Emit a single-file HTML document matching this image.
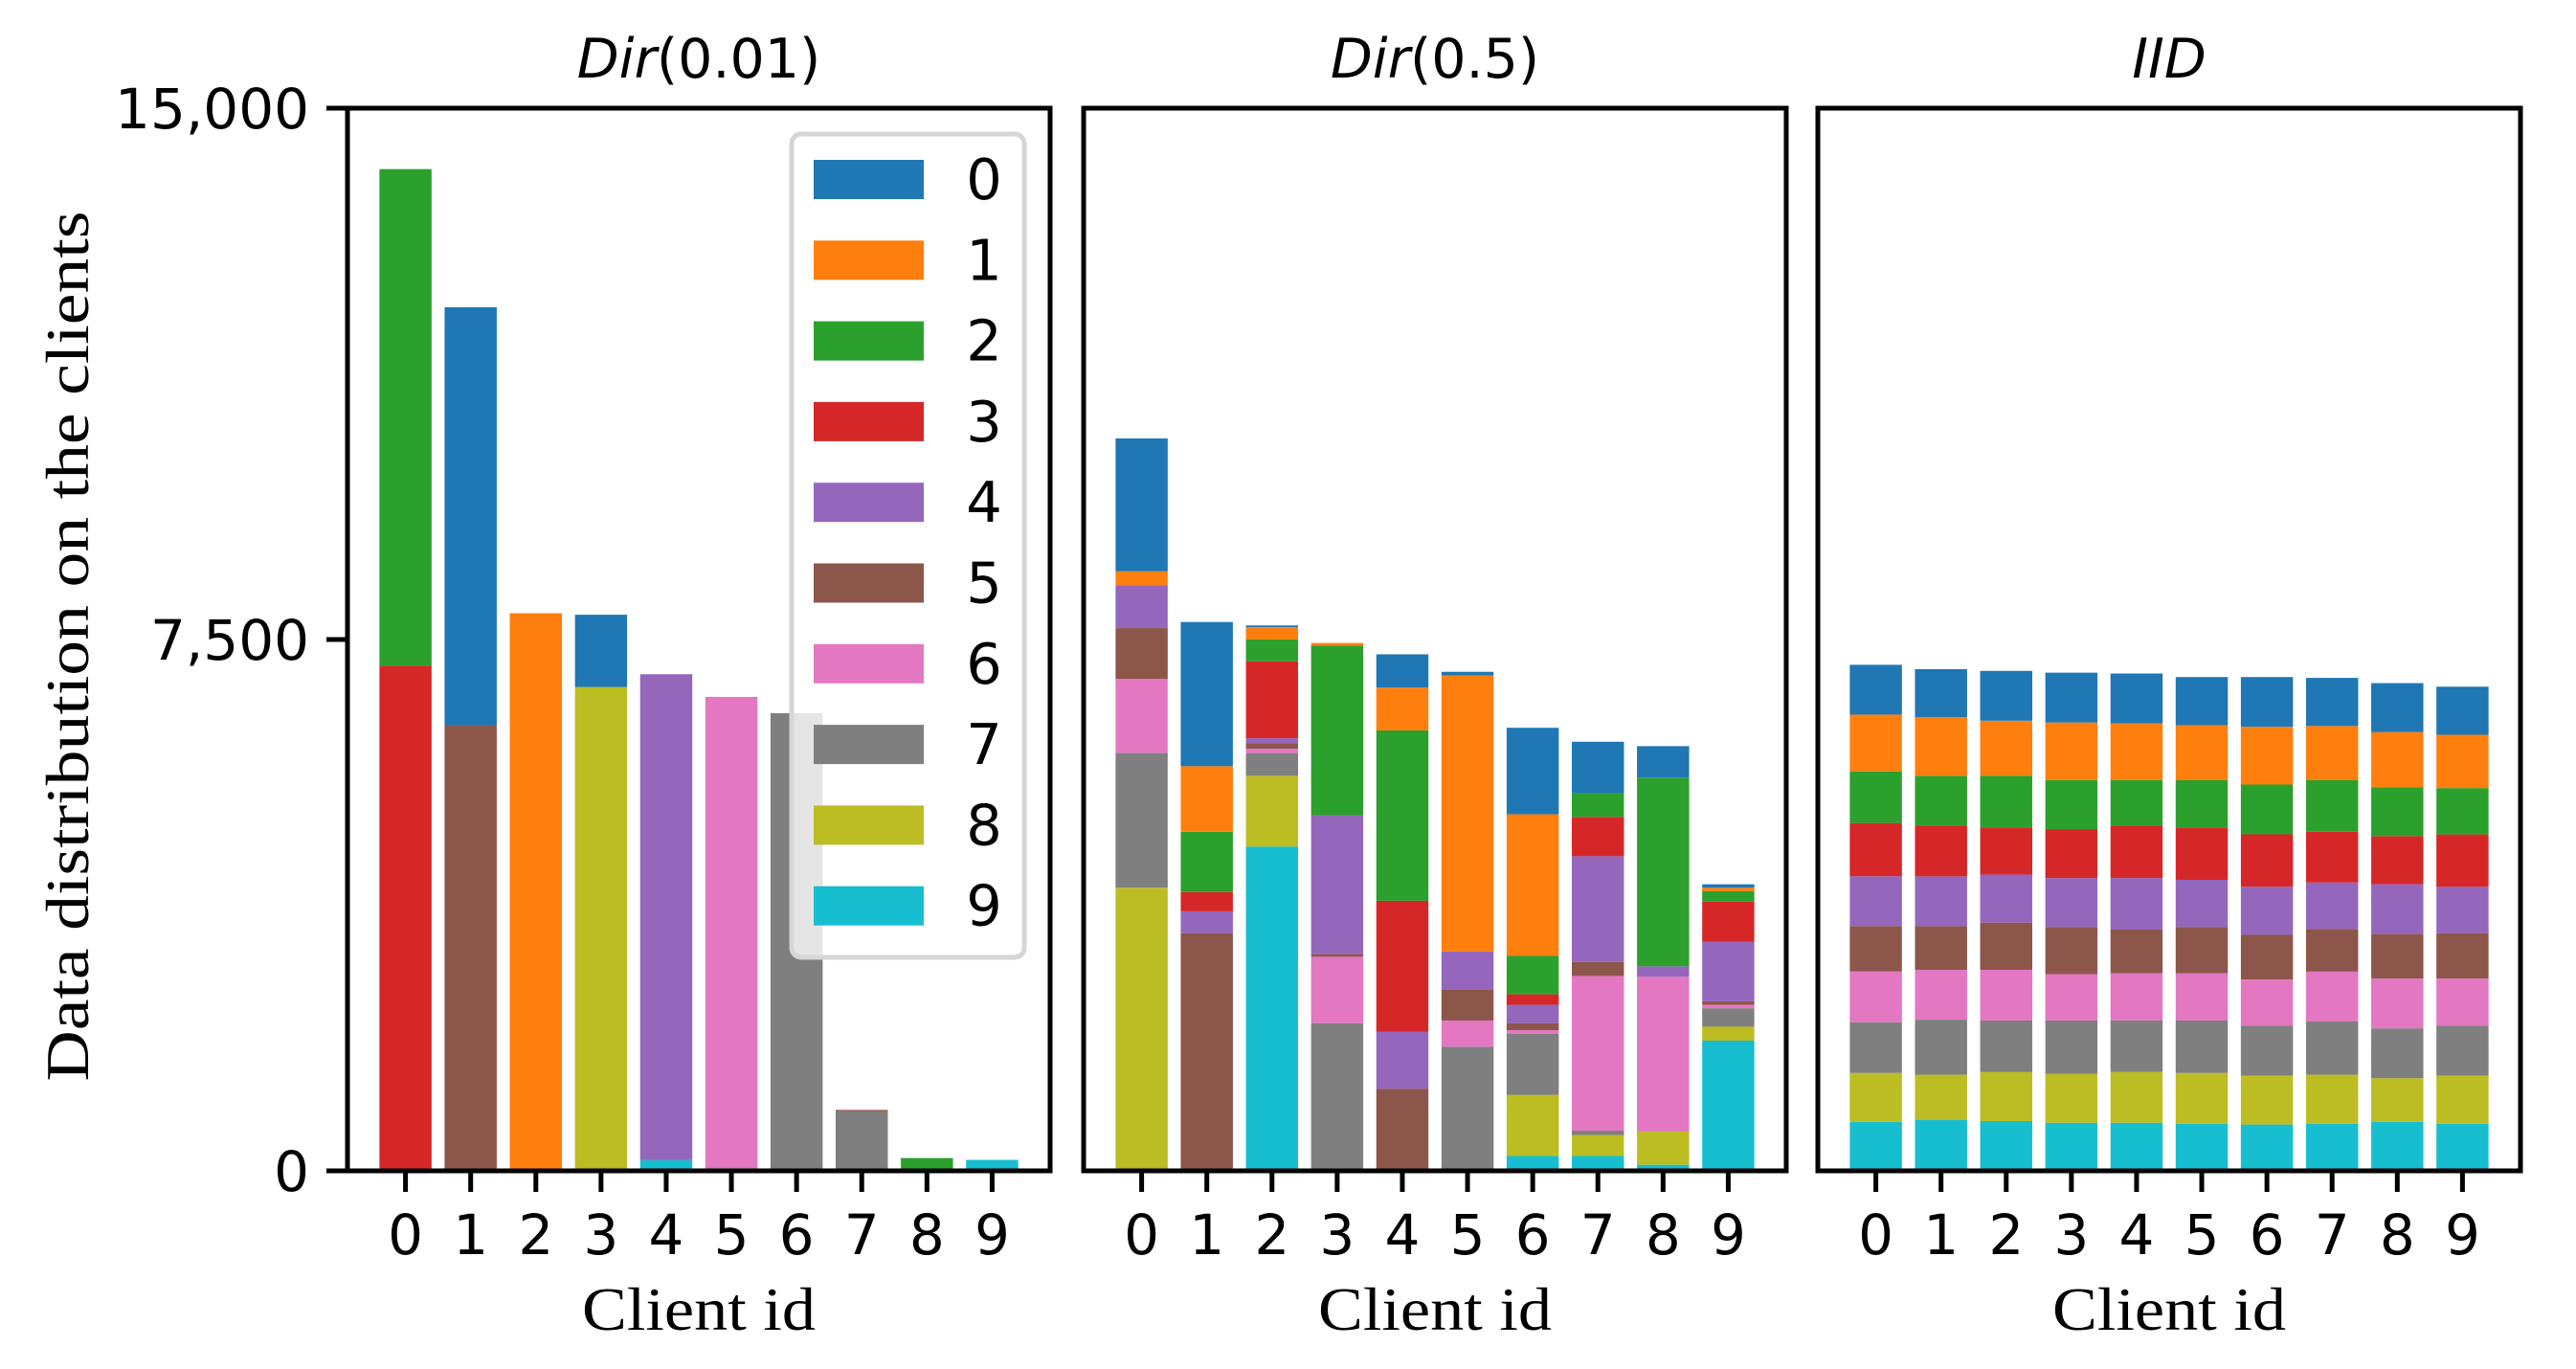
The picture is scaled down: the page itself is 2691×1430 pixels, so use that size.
<!DOCTYPE html>
<html><head><meta charset="utf-8"><style>
html,body{margin:0;padding:0;background:#fff;}
svg{display:block;}
</style></head><body>
<svg id="chart" width="2691" height="1430" viewBox="0 0 2691 1430" xmlns="http://www.w3.org/2000/svg"></svg>
<script>
const classColors = ["#1f77b4","#ff7f0e","#2ca02c","#d62728","#9467bd","#8c564b","#e377c2","#7f7f7f","#bcbd22","#17becf"];
const clientIds = [0,1,2,3,4,5,6,7,8,9];
const yTicks = [0,7500,15000];
const yTickLabels = ["0","7,500","15,000"];
const panelTitles = ["Dir(0.01)","Dir(0.5)","IID"];
// per client, per class (0..9)
const dir001 = [
 [0,0,7010,7130,0,0,0,0,0,0],
 [5900,0,0,0,0,6290,0,0,0,0],
 [0,7870,0,0,0,0,0,0,0,0],
 [1020,0,0,0,0,0,0,0,6830,0],
 [0,0,0,0,6860,0,0,0,0,150],
 [0,0,0,0,0,0,6690,0,0,0],
 [0,0,0,0,0,0,0,6460,0,0],
 [0,0,0,0,0,20,0,840,0,0],
 [0,0,180,0,0,0,0,0,0,0],
 [0,0,0,0,0,0,0,0,0,155]
];
const dir05 = [
 [1875,198,0,0,604,716,1048,1900,3997,0],
 [2035,926,851,271,309,3355,0,0,0,0],
 [25,173,308,1086,74,74,62,321,999,4577],
 [0,37,2393,0,1962,37,937,2085,0,0],
 [469,605,2405,1851,801,1160,0,0,0,0],
 [50,3898,0,0,542,432,370,1752,0,0],
 [1221,1998,543,148,259,99,49,864,863,210],
 [728,0,333,555,1493,197,2184,61,296,210],
 [444,0,2664,0,148,0,2184,0,469,86],
 [49,49,148,568,838,49,49,260,197,1838]
];
const iid = [
 [703,802,728,752,703,641,716,716,691,691],
 [679,827,703,716,703,617,703,777,641,716],
 [703,777,728,666,679,666,716,728,691,703],
 [703,814,691,691,691,666,654,752,691,679],
 [703,802,641,740,728,617,666,728,716,679],
 [679,777,666,740,666,654,666,740,716,666],
 [703,814,703,740,679,629,654,703,691,654],
 [679,765,728,716,654,604,703,752,691,666],
 [691,777,691,679,703,629,703,703,617,691],
 [679,752,654,740,654,641,666,703,679,666]
];
const datasets = [dir001, dir05, iid];

const NS = "http://www.w3.org/2000/svg";
const svg = document.getElementById('chart');
function mk(tag, attrs, parent){const e=document.createElementNS(NS,tag);for(const k in attrs)e.setAttribute(k,attrs[k]);(parent||svg).appendChild(e);return e;}

const plotTop=113, plotBottom=1223, yMax=15000;
const panelLefts=[363,1132,1899], panelW=734;
const xMin=-0.89, xMax=9.89, barW=0.8;
function yScale(v){return plotBottom-(v/yMax)*(plotBottom-plotTop);}

datasets.forEach((data,p)=>{
  const L=panelLefts[p];
  function xScale(v){return L+(v-xMin)/(xMax-xMin)*panelW;}
  const g=mk('g',{});
  
  
  data.forEach((vals,ci)=>{
    let cum=0;
    for(let k=9;k>=0;k--){
      const v=vals[k]; if(v<=0) continue;
      const y0=yScale(cum), y1=yScale(cum+v);
      const r=mk('rect',{x:xScale(clientIds[ci]-barW/2),y:y1,width:xScale(barW)-xScale(0),height:y0-y1,fill:classColors[k]},g);
      
      
      cum+=v;
    }
  });
  clientIds.forEach(c=>{
    const x=xScale(c);
    mk('line',{x1:x,x2:x,y1:plotBottom,y2:plotBottom+22,stroke:'#000','stroke-width':5},g);
    const t=mk('text',{x:x,y:1310,'text-anchor':'middle','font-family':'DejaVu Sans, sans-serif','font-size':58},g);
    t.textContent=String(c);
    
    
  });
  const xl=mk('text',{x:L+panelW/2,y:1389,'text-anchor':'middle','font-family':'Liberation Serif, serif','font-size':64,textLength:244,lengthAdjust:'spacingAndGlyphs'},g);
  xl.textContent='Client id';
  
  
  const tt=mk('text',{x:L+panelW/2,y:81,'text-anchor':'middle','font-family':'DejaVu Sans, sans-serif','font-size':57},g);
  
  
  const title=panelTitles[p];
  const m=title.match(/^(Dir)(.*)$/);
  if(m){const a=mk('tspan',{'font-style':'italic'},tt);a.textContent=m[1];const b=mk('tspan',{},tt);b.textContent=m[2];}
  else{const a=mk('tspan',{'font-style':'italic'},tt);a.textContent=title;}
  const fr=mk('rect',{x:L,y:plotTop,width:panelW,height:plotBottom-plotTop,fill:'none',stroke:'#000','stroke-width':5},g);
  
  
});

yTicks.forEach((v,i)=>{
  const y=yScale(v);
  mk('line',{x1:341,x2:363,y1:y,y2:y,stroke:'#000','stroke-width':5});
  const t=mk('text',{x:323,y:y+21,'text-anchor':'end','font-family':'DejaVu Sans, sans-serif','font-size':58});
  t.textContent=yTickLabels[i];
  
  
});
const yl=mk('text',{x:0,y:0,'text-anchor':'middle','font-family':'Liberation Serif, serif','font-size':64,textLength:909,lengthAdjust:'spacingAndGlyphs',transform:'translate(92,675) rotate(-90)'});
yl.textContent='Data distribution on the clients';



const lg=mk('g',{});


mk('rect',{x:827,y:140,width:243,height:860,rx:10,ry:10,fill:'rgba(255,255,255,0.8)',stroke:'#d6d6d6','stroke-width':5},lg);
classColors.forEach((c,k)=>{
  const y=167+k*84.3;
  const r=mk('rect',{x:850,y:y,width:115,height:41,fill:c},lg);
  
  
  const t=mk('text',{x:1028,y:y+41,'text-anchor':'middle','font-family':'DejaVu Sans, sans-serif','font-size':59},lg);
  t.textContent=String(k);
  
  
});
</script>
</body></html>
